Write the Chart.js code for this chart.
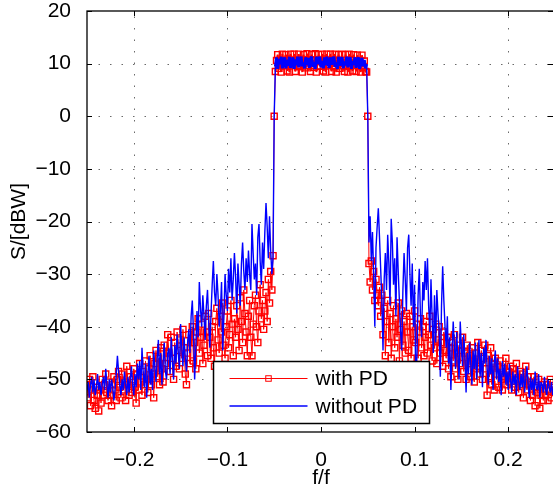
<!DOCTYPE html>
<html>
<head>
<meta charset="utf-8">
<script src="https://cdn.jsdelivr.net/npm/chart.js@4.4.1/dist/chart.umd.min.js"></script>
<style>
	body { margin: 0; background: #fff; overflow: hidden; }
	#wrap { width: 553px; height: 489px; overflow: hidden; }
	canvas { display: block; }
</style>
</head>
<body>
<div id="wrap"><canvas id="spectrum_chart" width="555" height="489"></canvas></div>
<script>
// sample grid of the spectrum (normalised frequency), 400 bins
const F_START = -0.25;
const F_STEP = 0.00125;

const xTicks = [-0.2, -0.1, 0, 0.1, 0.2];
const yTicks = [-60, -50, -40, -30, -20, -10, 0, 10, 20];

const seriesLabels = ['with PD', 'without PD'];

// with PD : f = -0.25 ... -0.05125
const withPdLow = [
	-51, -53.5, -50, -55, -52, -49.5, -54, -55.5, -51.5, -53,
	-56, -52, -54.5, -50, -53, -51, -49, -52.5, -54, -50.5,
	-53, -55, -51, -49.5, -52, -54, -50, -48.5, -51.5, -53.5,
	-49, -52, -50.5, -54, -47.5, -51, -53, -49.5, -52.5, -50,
	-48, -51.5, -54.5, -49, -52, -47, -50.5, -53, -48.5, -51,
	-46.5, -50, -52.5, -48, -45.5, -51, -49, -53.5, -47, -44.5,
	-49.5, -46, -51, -44, -48, -50.5, -43.5, -47, -45, -41.5,
	-45, -48.5, -42, -46, -50, -43, -47.5, -41, -44.5, -48,
	-42.5, -46, -40.5, -44, -49, -51, -45, -41.5, -47, -43,
	-40, -46.5, -43, -48, -41, -38.5, -45, -42, -39.5, -47,
	-43.5, -38, -41, -45.5, -37.5, -42, -46, -40, -44, -47.5,
	-39, -36.5, -42.5, -45, -38, -41, -35.5, -43.5, -46, -40,
	-37, -44, -41.5, -35, -39.5, -45.5, -38.5, -42, -36, -40.5,
	-44.5, -34.5, -39, -43, -33, -37.5, -41, -45.5, -38, -35,
	-42, -45.5, -39.5, -36, -34, -40, -43, -37, -32, -38.5,
	-35, -40.5, -37, -33.5, -39, -31, -35.5, -29.5, -33, -26.5
];
// with PD : f = -0.05 ... 0.05
const withPdBand = [
	0,
	8.5, 10.6, 11.7, 9.1, 10.0, 8.4, 11.8, 9.6, 10.3, 11.7,
	8.6, 10.9, 8.4, 11.8, 9.8, 10.5, 11.8, 8.5, 10.2, 9.4,
	11.8, 9.7, 10.8, 8.4, 11.7, 10.1, 9.2, 11.9, 9.6, 10.7,
	8.5, 11.7, 10.0, 9.3, 11.9, 8.4, 10.6, 11.7, 9.5, 10.4,
	11.8, 8.6, 10.9, 8.4, 11.8, 9.8, 10.3, 11.8, 8.5, 10.7,
	9.4, 11.8, 8.4, 10.5, 11.7, 9.1, 10.0, 11.8, 9.6, 8.5,
	11.7, 10.2, 8.4, 11.8, 9.5, 10.8, 8.6, 11.7, 10.1, 8.5,
	11.6, 9.7, 10.6, 8.4, 11.6, 9.3, 10.5, 8.5, 8.4,
	0
];
// with PD : f = 0.05125 ... 0.24875
const withPdHigh = [
	-28, -31.5, -27.5, -33, -29.5, -35, -31, -34, -36, -32.5,
	-38, -34, -41.5, -36.5, -45.5, -39, -35, -43, -37.5, -46,
	-40, -36, -44, -38.5, -42, -35.5, -46.5, -40.5, -37, -43.5,
	-39, -45, -37.5, -41, -44.5, -38, -46, -40, -42.5, -37,
	-43, -39.5, -46, -41, -38.5, -44, -40, -45.5, -42, -39,
	-45, -41.5, -38, -43.5, -46.5, -40.5, -44, -39.5, -47, -42.5,
	-40, -45, -43, -47.5, -41, -44.5, -46, -42, -48, -44,
	-49.5, -43, -46.5, -41.5, -48, -45, -50, -43.5, -47, -44.5,
	-42, -48.5, -45, -50, -43.5, -47, -45.5, -49.5, -44, -46.5,
	-50.5, -45, -48, -43, -47.5, -49, -44.5, -50, -46, -43.5,
	-48, -53, -45.5, -49.5, -44, -51, -47, -52, -46, -49,
	-47.5, -51.5, -46.5, -50, -52, -48, -49.5, -46, -51, -48.5,
	-50.5, -47.5, -52, -48, -49, -51.5, -47, -50, -52.5, -48.5,
	-51, -49, -53.5, -50, -47.5, -52, -49.5, -51, -54, -50.5,
	-53, -49.5, -55, -51.5, -52.5, -50, -55.5, -53, -51, -54,
	-50.5, -53, -51, -54, -52, -50, -53.5, -51.5, -52.5
];

// without PD : f = -0.25 ... -0.05125
const withoutPdLow = [
	-52, -50.5, -53.5, -51, -49.5, -52.5, -50, -53, -51.5, -49,
	-52, -50.5, -53, -51, -49.5, -52, -48, -51, -53.5, -50,
	-52.5, -50, -51.5, -54, -52, -49, -45.5, -48.5, -51, -53,
	-50, -52, -48.5, -51, -53, -49.5, -52.5, -50, -47.5, -51,
	-53, -49, -51.5, -47, -50, -46.5, -52, -44, -48.5, -51.5,
	-47, -53.5, -49, -45.5, -51, -48, -52, -44.5, -47.5, -50.5,
	-46, -42.5, -49, -45, -51, -47, -43, -48.5, -50, -45,
	-44, -49, -42, -46.5, -50, -43.5, -47, -41.5, -45, -48,
	-39.5, -44, -47.5, -42, -46, -48.5, -43, -40.5, -45, -38,
	-35, -41, -50, -44, -37, -42, -31.5, -36.5, -40, -34,
	-38, -42.5, -36, -33, -39, -44, -37.5, -32, -27.5, -33.5,
	-36, -30, -34, -40, -37, -31.5, -44.5, -38, -30, -34,
	-37, -29, -33.5, -27, -35, -31, -26, -30.5, -37.5, -28,
	-32, -36, -28, -24, -29.5, -33, -27, -31.5, -25.5, -30,
	-33, -20.5, -26, -31, -28, -34, -23, -20.5, -27.5, -32,
	-24, -29, -22, -16.5, -21, -27, -19, -25.5, -30, -27
];
// without PD : f = -0.05 ... 0.05
const withoutPdBand = [
	0,
	9.4, 11.2, 9.0, 10.9, 9.9, 11.3, 9.1, 10.4, 11.2, 9.1,
	10.7, 9.6, 11.3, 9.2, 10.1, 11.2, 9.0, 10.8, 9.7, 11.3,
	9.3, 10.6, 11.3, 9.5, 10.2, 9.1, 11.2, 9.8, 11.1, 9.2,
	10.9, 11.3, 9.4, 10.3, 9.0, 11.3, 9.9, 10.7, 11.3, 9.3,
	10.5, 9.1, 11.2, 9.7, 11.3, 10.0, 9.2, 11.2, 9.8, 10.8,
	11.3, 9.4, 10.2, 9.0, 11.3, 9.6, 10.9, 11.2, 9.1, 10.4,
	9.7, 11.3, 9.3, 10.8, 11.2, 9.0, 10.5, 9.8, 11.2, 9.2,
	10.6, 11.2, 9.0, 10.1, 11.1, 9.5, 10.7, 9.1, 9.9,
	0
];
// without PD : f = 0.05125 ... 0.24875
const withoutPdHigh = [
	-24, -19, -27.5, -22, -30, -40, -25, -21, -17.5, -23,
	-29, -35, -44.5, -31, -26, -33, -22.5, -28, -36, -19.5,
	-24, -32, -27, -38, -23, -29.5, -35, -41, -44.5, -33,
	-26, -31, -37, -25, -22.5, -30, -36, -28, -40, -32,
	-51, -45.5, -34, -29, -38, -42, -31.5, -35, -27.5, -33,
	-27, -36, -41, -31, -38.5, -45, -34, -43, -33, -37.5,
	-41, -49.5, -36, -28.5, -35, -40, -44, -38, -47, -42,
	-52, -45, -39, -43.5, -48, -41, -46, -50, -39, -44,
	-47.5, -41.5, -46, -52.5, -45, -49, -43, -47, -51, -44.5,
	-48, -43, -50, -46, -42.5, -49.5, -45, -51.5, -44, -47,
	-42.5, -48, -51, -45.5, -49, -46, -52, -47, -44.5, -50,
	-46, -50.5, -48, -53, -46.5, -49.5, -47, -51, -48.5, -52,
	-47, -50, -52.5, -48.5, -51, -49, -53, -47.5, -50.5, -52,
	-49, -51.5, -48, -52.5, -50, -47.5, -51, -53.5, -49.5, -52,
	-50, -53, -48.5, -51.5, -52, -49, -53.5, -50.5, -51, -52.5,
	-49.5, -52, -53, -50, -51.5, -52.5, -50.5, -53, -51.5
];

const FONT = '"Liberation Sans", Arial, Helvetica, sans-serif';

function toPoints(values) {
	return values.map((v, i) => ({ x: F_START + i * F_STEP, y: v }));
}

function fmtTick(v) {
	return String(Math.round(v * 100) / 100).replace('-', '\u2212');
}

// in the pass band the trace is so dense it reads as a solid strip
function bandWidth(w) {
	return ctx => (ctx.p0.parsed.y > 5 && ctx.p1.parsed.y > 5 ? w : undefined);
}

// MATLAB-like axes: dotted grid, box, inward ticks, legend
const matlabAxes = {
	id: 'matlabAxes',
	beforeDatasetsDraw(chart) {
		const { ctx, chartArea: a, scales } = chart;
		ctx.save();
		ctx.strokeStyle = '#6a6a6a';
		ctx.lineWidth = 1;
		ctx.setLineDash([1.5, 10]);
		xTicks.forEach(t => {
			const px = Math.round(scales.x.getPixelForValue(t)) + 0.5;
			ctx.beginPath();
			ctx.moveTo(px, a.bottom);
			ctx.lineTo(px, a.top);
			ctx.stroke();
		});
		yTicks.forEach(t => {
			if (t === yTicks[0] || t === yTicks[yTicks.length - 1]) return;
			const py = Math.round(scales.y.getPixelForValue(t)) + 0.5;
			ctx.beginPath();
			ctx.moveTo(a.left, py);
			ctx.lineTo(a.right, py);
			ctx.stroke();
		});
		ctx.restore();
	},
	afterDatasetsDraw(chart) {
		const { ctx, chartArea: a, scales } = chart;
		ctx.save();
		ctx.strokeStyle = '#000';
		ctx.lineWidth = 1.3;
		ctx.strokeRect(a.left, a.top, a.right - a.left, a.bottom - a.top);
		ctx.lineWidth = 1;
		const tl = 5;
		ctx.beginPath();
		xTicks.forEach(t => {
			const px = Math.round(scales.x.getPixelForValue(t)) + 0.5;
			ctx.moveTo(px, a.bottom); ctx.lineTo(px, a.bottom - tl);
			ctx.moveTo(px, a.top); ctx.lineTo(px, a.top + tl);
		});
		yTicks.forEach(t => {
			const py = Math.round(scales.y.getPixelForValue(t)) + 0.5;
			ctx.moveTo(a.left, py); ctx.lineTo(a.left + tl, py);
			ctx.moveTo(a.right - 2, py); ctx.lineTo(a.right - 2 - tl, py);
		});
		ctx.stroke();

		// legend, 'South' location
		const w = 216, h = 62;
		const x0 = Math.round((a.left + a.right) / 2 - w / 2) + 0.5;
		const y0 = Math.round(a.bottom - 9.5 - h) + 0.5;
		ctx.fillStyle = '#fff';
		ctx.fillRect(x0, y0, w, h);
		ctx.lineWidth = 1.5;
		ctx.strokeStyle = '#000';
		ctx.strokeRect(x0, y0, w, h);
		ctx.font = '21px ' + FONT;
		ctx.textBaseline = 'middle';
		ctx.textAlign = 'left';
		chart.data.datasets.forEach((ds, i) => {
			const y = y0 + 17 + i * 27.5;
			ctx.strokeStyle = ds.borderColor;
			ctx.lineWidth = ds.borderWidth;
			ctx.beginPath();
			ctx.moveTo(x0 + 16, y);
			ctx.lineTo(x0 + 94, y);
			ctx.stroke();
			if (ds.pointRadius > 0) {
				const s = Math.SQRT1_2 * 3.9;
				ctx.lineWidth = 1;
				ctx.strokeRect(x0 + 55 - s, y - s, 2 * s, 2 * s);
			}
			ctx.fillStyle = '#000';
			ctx.fillText(ds.label, x0 + 102, y + 1);
		});
		ctx.restore();
	}
};

const config = {
	type: 'line',
	data: {
		datasets: [
			{
				label: seriesLabels[0],
				data: toPoints(withPdLow.concat(withPdBand, withPdHigh)),
				borderColor: '#ff0000',
				borderWidth: 1,
				borderJoinStyle: 'bevel',
				segment: { borderWidth: bandWidth(2) },
				pointStyle: 'rect',
				pointRadius: 4.3,
				pointBorderColor: '#ff0000',
				pointBackgroundColor: 'rgba(255,255,255,0)',
				pointBorderWidth: 1.4,
				tension: 0,
				order: 1
			},
			{
				label: seriesLabels[1],
				data: toPoints(withoutPdLow.concat(withoutPdBand, withoutPdHigh)),
				borderColor: '#0000ff',
				borderWidth: 1.4,
				borderJoinStyle: 'bevel',
				segment: { borderWidth: bandWidth(3) },
				pointRadius: 0,
				tension: 0,
				order: 0
			}
		]
	},
	options: {
		responsive: false,
		animation: false,
		events: [],
		layout: { autoPadding: false, padding: { top: 11, right: 0, bottom: 0, left: 0 } },
		plugins: {
			legend: { display: false },
			tooltip: { enabled: false }
		},
		scales: {
			x: {
				type: 'linear',
				min: -0.25,
				max: 0.25,
				afterBuildTicks: s => { s.ticks = xTicks.map(v => ({ value: v })); },
				afterFit: s => { s.height = 57; s.paddingLeft = 0; s.paddingRight = 0; },
				grid: { display: false },
				border: { display: false },
				ticks: {
					padding: 8,
					maxRotation: 0,
					autoSkip: false,
					color: '#000',
					font: { family: FONT, size: 21 },
					callback: v => fmtTick(v)
				},
				title: {
					display: true,
					text: 'f/f',
					color: '#000',
					font: { family: FONT, size: 21, lineHeight: 1 },
					padding: { top: 0, bottom: 0.5 }
				}
			},
			y: {
				type: 'linear',
				min: -60,
				max: 20,
				afterBuildTicks: s => { s.ticks = yTicks.map(v => ({ value: v })); },
				afterFit: s => { s.width = 87; s.paddingTop = 0; s.paddingBottom = 0; },
				grid: { display: false },
				border: { display: false },
				ticks: {
					padding: 8,
					autoSkip: false,
					color: '#000',
					font: { family: FONT, size: 21 },
					callback: v => fmtTick(v)
				},
				title: {
					display: true,
					text: 'S/[dBW]',
					color: '#000',
					font: { family: FONT, size: 21, lineHeight: 1 },
					padding: { top: 9, bottom: 0 }
				}
			}
		}
	},
	plugins: [matlabAxes]
};

const spectrumChart = new Chart(document.getElementById('spectrum_chart'), config);
</script>
</body>
</html>
